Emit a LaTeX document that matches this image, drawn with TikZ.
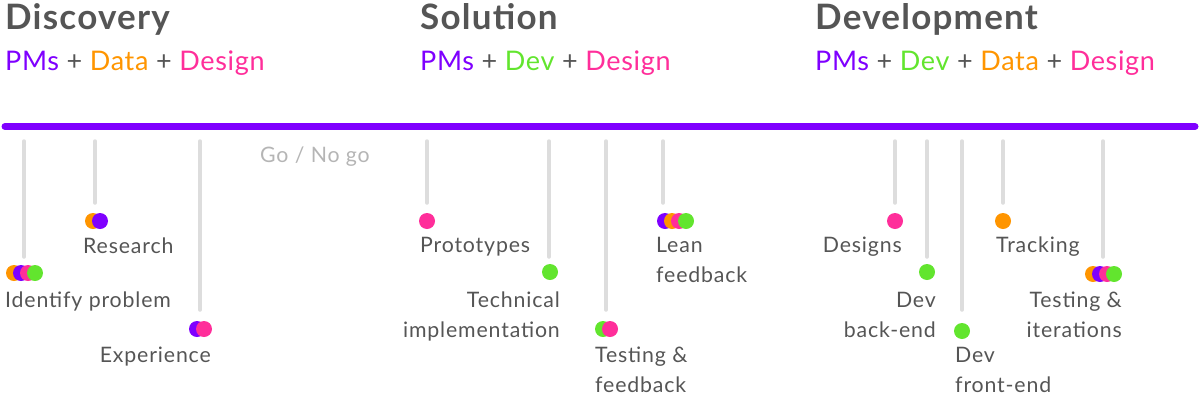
\documentclass[tikz,border=0pt]{standalone}
\usepackage{fontspec}
\setmainfont{Lato}
\newfontfamily\lblfont[LetterSpace=4]{Lato}
\newfontfamily\teamfont[LetterSpace=2.5]{Lato}
\newfontfamily\titlefont[LetterSpace=3.5]{Lato}
\definecolor{cpm}{HTML}{7F00FF}
\definecolor{cdata}{HTML}{FF9500}
\definecolor{cdes}{HTML}{FF2E9A}
\definecolor{cdev}{HTML}{62E52E}
\definecolor{ctxt}{HTML}{555555}
\definecolor{cstem}{HTML}{DDDDDD}
\definecolor{cgo}{HTML}{B5B5B5}
\tikzset{
  title/.style={anchor=base west,inner sep=0,font=\titlefont\fontsize{35}{38}\selectfont\bfseries,text=ctxt},
  team/.style={anchor=base west,inner sep=0,font=\teamfont\fontsize{27}{30}\selectfont,text=ctxt},
  lbl/.style={inner sep=0,font=\lblfont\fontsize{21.3}{30}\selectfont,text=ctxt},
  lblw/.style={lbl,anchor=base west,align=left},
  lble/.style={lbl,anchor=base east,align=right},
  stem/.style={draw=cstem,line width=3.5pt,line cap=round},
  dot/.style={circle,inner sep=0,minimum size=16pt,fill=#1},
}
\begin{document}
\begin{tikzpicture}[x=1pt,y=-1pt]
\useasboundingbox (0,0) rectangle (1200,397);
% titles
\node[title] (t1) at (5,29) {Discovery};
\node[title] (t2) at (420,29) {Solution};
\node[title] (t3) at (815,29) {Development};
\node[team] (s1) at (5,70) {\textcolor{cpm}{PMs} + \textcolor{cdata}{Data} + \textcolor{cdes}{Design}};
\node[team] (s2) at (420,70) {\textcolor{cpm}{PMs} + \textcolor{cdev}{Dev} + \textcolor{cdes}{Design}};
\node[team] (s3) at (815,70) {\textcolor{cpm}{PMs} + \textcolor{cdev}{Dev} + \textcolor{cdata}{Data} + \textcolor{cdes}{Design}};
% timeline
\coordinate (tl0) at (5,126.5);
\coordinate (tl1) at (1195,126.5);
\draw[draw=cpm,line width=7pt,line cap=round] (tl0) -- (tl1);
\node[lbl,anchor=base west,text=cgo] (go) at (260,162) {Go / No go};
% stems
\foreach \n/\x/\e in {a/24/257, b/95/203, c/200/310, d/427/203, e/549/257, f/606/310, g/663/203, h/895/203, i/927/257, j/962/310, k/1003/203, l/1103/257}{
  \coordinate (\n top) at (\x,141);
  \coordinate (\n bot) at (\x,\e);
  \draw[stem] (\n top) -- (\n bot);
}
% Discovery
\node[dot=cdata] (a1) at (14,273) {};
\node[dot=cpm] (a2) at (21,273) {};
\node[dot=cdes] (a3) at (28,273) {};
\node[dot=cdev] (a4) at (35,273) {};
\node[lblw] (la) at (5,307) {Identify problem};
\node[dot=cdata] (b1) at (93,221) {};
\node[dot=cpm] (b2) at (100,221) {};
\node[lblw] (lb) at (83,253) {Research};
\node[dot=cpm] (c1) at (197,329) {};
\node[dot=cdes] (c2) at (204,329) {};
\node[lble] (lc) at (211,362) {Experience};
% Solution
\node[dot=cdes] (d1) at (427,221) {};
\node[lblw] (ld) at (420,252) {Prototypes};
\node[dot=cdev] (e1) at (550,272) {};
\node[lble] (le) at (560,337) {Technical\\implementation};
\node[dot=cdev] (f1) at (603,329) {};
\node[dot=cdes] (f2) at (610,329) {};
\node[lblw] (lf) at (595,392) {Testing \&\\feedback};
\node[dot=cpm] (g1) at (665,221) {};
\node[dot=cdata] (g2) at (672,221) {};
\node[dot=cdes] (g3) at (679,221) {};
\node[dot=cdev] (g4) at (686,221) {};
\node[lblw] (lg) at (656,282) {Lean\\feedback};
% Development
\node[dot=cdes] (h1) at (895,221) {};
\node[lble] (lh) at (902,252) {Designs};
\node[dot=cdev] (i1) at (927,272) {};
\node[lble] (li) at (936,337) {Dev\\back-end};
\node[dot=cdev] (j1) at (962,331) {};
\node[lblw] (lj) at (955,392) {Dev\\front-end};
\node[dot=cdata] (k1) at (1003,221) {};
\node[lblw] (lk) at (996,252) {Tracking};
\node[dot=cdata] (l1) at (1093,274) {};
\node[dot=cpm] (l2) at (1100,274) {};
\node[dot=cdes] (l3) at (1107,274) {};
\node[dot=cdev] (l4) at (1114,274) {};
\node[lble] (ll) at (1122,337) {Testing \&\\iterations};
\end{tikzpicture}
\end{document}
